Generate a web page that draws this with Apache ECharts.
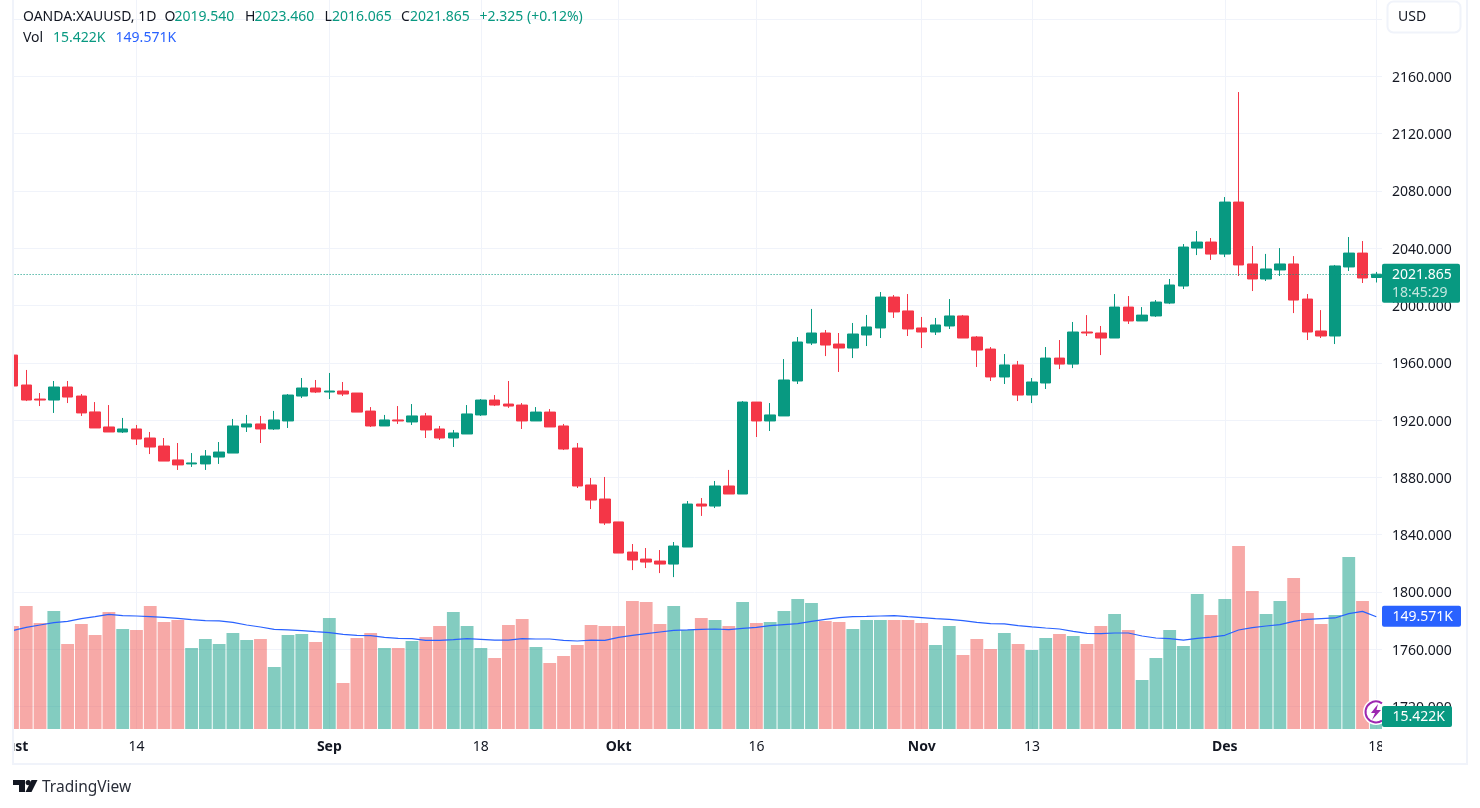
<!DOCTYPE html>
<html>
<head>
<meta charset="utf-8">
<style>html,body{margin:0;padding:0;background:#fff}#c{width:1480px;height:808px}</style>
<script src="https://cdn.jsdelivr.net/npm/echarts@6/dist/echarts.min.js"></script>
</head>
<body>
<div id="c"></div>
<script>
// Trading days, 1 Aug 2023 .. 18 Dec 2023
var dates = ['08-01','08-02','08-03','08-04','08-07','08-08','08-09','08-10','08-11','08-14','08-15','08-16','08-17','08-18','08-21','08-22','08-23','08-24','08-25','08-28','08-29','08-30','08-31','09-01','09-04','09-05','09-06','09-07','09-08','09-11','09-12','09-13','09-14','09-15','09-18','09-19','09-20','09-21','09-22','09-25','09-26','09-27','09-28','09-29','10-02','10-03','10-04','10-05','10-06','10-09','10-10','10-11','10-12','10-13','10-16','10-17','10-18','10-19','10-20','10-23','10-24','10-25','10-26','10-27','10-30','10-31','11-01','11-02','11-03','11-06','11-07','11-08','11-09','11-10','11-13','11-14','11-15','11-16','11-17','11-20','11-21','11-22','11-23','11-24','11-27','11-28','11-29','11-30','12-01','12-04','12-05','12-06','12-07','12-08','12-11','12-12','12-13','12-14','12-15','12-18'];
var opens = [1965.4,1944.5,1934.7,1934.0,1943.1,1936.8,1925.7,1915.2,1911.7,1913.8,1907.5,1901.9,1892.2,1889.4,1889.4,1894.2,1897.0,1915.2,1917.3,1913.8,1919.4,1936.8,1942.4,1939.6,1940.3,1938.9,1926.3,1915.9,1920.1,1918.7,1922.9,1913.8,1907.5,1910.3,1923.6,1934.0,1931.2,1930.5,1919.4,1925.6,1915.9,1900.5,1874.7,1864.9,1848.9,1827.9,1823.0,1821.6,1819.5,1831.4,1861.4,1860.0,1874.0,1868.4,1932.6,1919.4,1922.9,1947.3,1973.8,1980.8,1973.1,1970.3,1979.4,1984.3,2005.9,1996.2,1984.3,1981.5,1985.7,1992.7,1978.0,1969.6,1950.1,1958.5,1937.5,1945.9,1963.3,1959.1,1981.5,1980.8,1977.3,1998.9,1989.2,1992.7,2001.7,2013.6,2040.1,2044.3,2035.9,2072.2,2029.0,2018.5,2024.8,2029.0,2004.5,1982.2,1978.7,2026.9,2036.6,2019.54];
var closes = [1943.8,1934.0,1934.0,1943.1,1936.1,1925.0,1914.5,1911.7,1913.8,1906.8,1901.2,1891.4,1888.7,1890.1,1894.9,1897.7,1915.9,1917.3,1913.8,1920.1,1937.5,1942.4,1939.6,1940.3,1938.2,1925.6,1915.9,1920.1,1919.4,1922.9,1913.1,1907.5,1911.0,1924.3,1934.0,1930.5,1929.8,1919.4,1925.6,1915.2,1899.8,1874.0,1864.2,1848.2,1827.2,1822.3,1820.9,1819.5,1832.1,1861.4,1860.0,1874.0,1868.4,1932.6,1919.4,1923.6,1948.0,1974.5,1980.8,1972.4,1970.3,1980.1,1985.0,2005.9,1995.5,1983.6,1981.5,1986.4,1992.7,1977.3,1968.9,1950.1,1958.5,1937.5,1946.6,1963.3,1959.1,1981.5,1980.8,1977.3,1998.9,1989.2,1993.3,2002.4,2014.3,2040.8,2044.3,2035.9,2072.2,2028.3,2018.5,2025.5,2029.0,2003.8,1981.5,1978.7,2027.6,2036.6,2019.2,2021.865];
var lows = [1943.8,1933.3,1929.8,1925.0,1931.9,1922.9,1914.5,1911.7,1911.0,1902.6,1896.3,1891.4,1885.2,1887.3,1885.2,1889.4,1897.0,1911.7,1904.0,1913.1,1914.5,1935.4,1938.9,1934.7,1936.8,1925.6,1915.2,1915.9,1917.3,1916.6,1907.5,1906.1,1901.2,1910.3,1922.9,1929.8,1928.5,1913.8,1919.4,1915.2,1899.1,1872.6,1857.9,1846.8,1827.2,1815.3,1816.7,1813.2,1810.4,1831.4,1853.1,1858.6,1868.4,1868.4,1908.2,1912.4,1922.9,1945.2,1972.4,1964.7,1953.6,1963.3,1971.7,1977.3,1991.3,1978.7,1970.3,1979.4,1983.6,1977.3,1957.1,1947.3,1945.2,1933.3,1931.9,1941.7,1955.6,1956.3,1978.7,1965.4,1977.3,1987.1,1989.2,1992.0,2001.0,2011.5,2035.2,2031.8,2033.8,2020.6,2010.1,2017.1,2020.6,1994.7,1975.9,1977.3,1973.1,2024.1,2015.7,2016.065];
var highs = [1965.4,1955.0,1938.9,1947.3,1947.3,1938.2,1932.6,1930.5,1921.5,1916.6,1911.7,1907.5,1904.0,1897.0,1899.1,1904.7,1920.8,1923.6,1922.9,1926.4,1938.2,1949.4,1948.0,1952.9,1946.6,1938.9,1929.1,1923.6,1929.8,1931.2,1925.0,1915.9,1913.1,1930.5,1934.7,1937.5,1947.3,1931.9,1929.1,1927.7,1917.3,1904.0,1879.6,1880.3,1848.9,1833.5,1830.7,1829.3,1834.9,1863.5,1865.6,1877.5,1885.2,1933.3,1932.6,1931.9,1962.6,1978.0,1997.6,1982.9,1980.8,1987.8,1993.4,2009.4,2007.3,2008.0,1992.0,1991.3,2004.5,1993.4,1978.7,1971.0,1966.1,1961.3,1949.4,1971.0,1975.9,1988.5,1993.3,1985.7,2008.0,2006.6,1998.9,2003.8,2018.5,2042.9,2052.0,2047.1,2075.7,2149.0,2041.5,2036.0,2040.1,2034.5,2008.0,1996.8,2028.3,2047.8,2045.0,2023.46];
var volumes = [137.2,163.8,141.2,157.2,113.2,139.9,125.2,155.8,133.2,131.9,163.8,142.5,145.2,107.9,119.9,113.2,127.9,118.5,119.9,82.6,125.2,126.5,115.9,147.9,61.3,121.2,127.9,107.9,107.9,117.2,122.5,137.2,155.8,137.2,107.9,94.6,138.5,146.5,109.2,87.9,97.2,111.9,138.5,137.2,137.2,170.5,169.2,139.9,163.8,131.9,147.9,145.2,137.2,169.2,141.2,142.5,157.2,173.2,167.8,143.9,142.5,133.2,145.2,145.2,145.2,145.2,141.2,111.9,137.2,98.6,119.9,106.6,127.9,113.2,105.2,121.2,126.5,123.9,113.2,137.2,153.2,131.9,65.3,94.6,131.9,110.6,179.8,151.8,173.2,243.8,183.8,153.2,170.5,201.1,154.5,139.9,151.8,229.1,170.5,15.422];
var volumeMA = [131.0,135.4,138.5,141.6,143.4,147.0,149.6,152.7,151.0,150.5,149.6,148.7,147.4,145.6,144.3,143.9,142.0,138.5,135.9,132.8,131.9,131.0,129.6,128.3,126.0,124.8,124.3,122.1,120.8,120.3,118.1,118.1,119.0,120.3,119.4,118.5,118.5,120.3,119.9,119.9,118.1,117.2,118.5,118.1,122.1,124.8,127.0,129.2,131.4,131.9,132.8,133.2,132.3,134.1,135.4,137.6,139.0,140.3,143.4,146.1,148.3,149.6,150.0,150.5,151.0,149.6,148.3,147.0,146.1,144.3,142.0,140.3,139.9,137.6,135.9,134.5,133.2,130.1,127.4,127.0,127.9,127.9,123.9,121.2,120.3,118.5,120.8,122.5,124.8,131.9,135.0,137.2,139.0,143.4,146.1,147.0,147.9,153.6,156.7,149.571];

var xTickDates  = ['08-01','08-14','09-01','09-18','10-02','10-16','11-01','11-13','12-01','12-18'];
var xTickLabels = ['Agust','14','Sep','18','Okt','16','Nov','13','Des','18'];
var xTickMajor  = ['Sep','Okt','Nov','Des'];
var priceTickLabels = [1720,1760,1800,1840,1880,1920,1960,2000,2040,2080,2120,2160];

var lastPrice = 2021.865, lastVolume = 15.422, lastVolumeMA = 149.571, countdown = '18:45:29', currency = 'USD';
var headerSymbol = 'OANDA:XAUUSD, 1D';
var headerOHLC = [['O','2019.540'],['H','2023.460'],['L','2016.065'],['C','2021.865']];
var headerChange = '+2.325 (+0.12%)';

var UP = '#089981', DOWN = '#f43647', GRID = '#f0f3fa', TXT = '#131722', BLUE = '#2962ff';
var FONT = '"Noto Sans", sans-serif';
var ohlc = opens.map(function (o, i) { return [o, closes[i], lows[i], highs[i]]; });

var chart = echarts.init(document.getElementById('c'), null, { renderer: 'canvas' });
chart.setOption({
  animation: false,
  backgroundColor: '#fff',
  textStyle: { fontFamily: FONT },
  grid: [
    { left: 5.6, right: 96.8, top: -38.3, bottom: 44.1, outerBoundsMode: 'none' },
    { left: 5.6, right: 96.8, top: 0, bottom: 79, outerBoundsMode: 'none' }
  ],
  xAxis: [
    { type: 'category', gridIndex: 0, data: dates, show: false },
    { type: 'category', gridIndex: 1, data: dates,
      axisLine: { show: false }, axisTick: { show: false }, splitLine: { show: false },
      axisLabel: {
        margin: 11, fontSize: 14, color: TXT, fontFamily: FONT,
        interval: function (i, v) { return xTickDates.indexOf(v) >= 0; },
        formatter: function (v) {
          var s = xTickLabels[xTickDates.indexOf(v)];
          if (s === 'Agust') return '{a|' + s + '}';
          return xTickMajor.indexOf(s) >= 0 ? '{b|' + s + '}' : s;
        },
        rich: {
          b: { fontWeight: 'bold', fontSize: 14, color: TXT, fontFamily: FONT },
          a: { fontWeight: 'bold', fontSize: 14, color: TXT, fontFamily: FONT, padding: [0, 9, 0, 0] }
        }
      } }
  ],
  yAxis: [
    { type: 'value', gridIndex: 0, position: 'right', min: 1680, max: 2240, interval: 40,
      axisLine: { show: false }, axisTick: { show: false },
      splitLine: { lineStyle: { color: GRID, width: 1 } },
      axisLabel: { margin: 8.8, fontSize: 14, color: TXT, fontFamily: FONT,
        formatter: function (v) { return priceTickLabels.indexOf(v) >= 0 ? '{v|' + v.toFixed(3) + '}' : ''; },
        rich: { v: { fontSize: 14, color: TXT, fontFamily: FONT, padding: [3, 0, 0, 0] } } } },
    { type: 'value', gridIndex: 1, min: 0, max: 971, show: false }
  ],
  series: [
    { type: 'line', xAxisIndex: 1, yAxisIndex: 1, data: [], z: 0, silent: true,
      markLine: { z: 1, silent: true, symbol: 'none', animation: false, label: { show: false },
        lineStyle: { color: GRID, width: 1, type: 'solid' },
        data: xTickDates.map(function (d) { return { xAxis: d }; }) } },
    { type: 'bar', xAxisIndex: 1, yAxisIndex: 1, data: volumes, barWidth: 12.8, z: 2, silent: true,
      itemStyle: { color: function (p) {
        return closes[p.dataIndex] >= opens[p.dataIndex] ? 'rgba(8,153,129,0.5)' : 'rgba(239,83,80,0.5)'; } } },
    { type: 'line', xAxisIndex: 1, yAxisIndex: 1, data: volumeMA, z: 3, silent: true, symbol: 'none', smooth: false,
      lineStyle: { color: BLUE, width: 1.2 } },
    { type: 'candlestick', xAxisIndex: 0, yAxisIndex: 0, data: ohlc, barWidth: 11, z: 4, silent: true,
      itemStyle: { color: UP, color0: DOWN, borderColor: UP, borderColor0: DOWN, borderWidth: 1 },
      markLine: { silent: true, symbol: 'none', animation: false, label: { show: false },
        lineStyle: { color: UP, width: 1, type: [1, 2] },
        data: [{ yAxis: lastPrice }] } }
  ]
});

function tag(y0, y1, x1, color) {
  return { type: 'rect', z: 60, shape: { x: 1382, y: y0, width: x1 - 1382, height: y1 - y0, r: 2 }, style: { fill: color } };
}
function text(x, y, s, color, size, weight) {
  return { type: 'text', z: 70, x: x, y: y,
    style: { text: s, fill: color, font: (weight || 'normal') + ' ' + (size || 14) + 'px ' + FONT, textVerticalAlign: 'middle', textAlign: 'left' } };
}
var yPrice = chart.convertToPixel({ yAxisIndex: 0 }, lastPrice);
var yMA = chart.convertToPixel({ yAxisIndex: 1 }, lastVolumeMA);
var xOHLC = [[164.6, 174.5], [245, 254.5], [324.5, 332], [401, 410]];
var g = [
  // plot-edge masks and pane border
  { type: 'rect', z: 50, shape: { x: 0, y: 0, width: 12, height: 808 }, style: { fill: '#fff' } },
  { type: 'rect', z: 50, shape: { x: 1382, y: 0, width: 2, height: 729 }, style: { fill: '#fff' } },
  { type: 'rect', z: 50, shape: { x: 1382, y: 730, width: 84, height: 33 }, style: { fill: '#fff' } },
  { type: 'rect', z: 51, shape: { x: 12, y: 0, width: 2, height: 765 }, style: { fill: GRID } },
  { type: 'rect', z: 51, shape: { x: 1466, y: 0, width: 2, height: 765 }, style: { fill: GRID } },
  { type: 'rect', z: 51, shape: { x: 12, y: 763, width: 1456, height: 2 }, style: { fill: GRID } },
  // currency button
  { type: 'rect', z: 60, shape: { x: 1387.5, y: 1.5, width: 73, height: 31, r: 6 }, style: { fill: '#fff', stroke: GRID, lineWidth: 2 } },
  text(1398, 17.5, currency, TXT, 14),
  // header
  text(23, 17, headerSymbol, TXT, 14),
  text(23, 38, 'Vol', TXT, 14),
  text(53, 38, lastVolume.toFixed(3) + 'K', UP, 14),
  text(115.6, 38, lastVolumeMA.toFixed(3) + 'K', BLUE, 14),
  text(479.5, 17, headerChange, UP, 14),
  // event badge
  { type: 'circle', z: 52, shape: { cx: 1376, cy: 712, r: 13 }, style: { fill: '#fff' } },
  { type: 'arc', z: 53, shape: { cx: 1376, cy: 712, r: 10.5, startAngle: 0.96, endAngle: 5.32, clockwise: true }, style: { fill: null, stroke: '#9c27b0', lineWidth: 2 } },
  { type: 'polygon', z: 53, shape: { points: [[1378, 704], [1371, 713], [1375, 713], [1372, 720], [1381, 710], [1376.5, 710]] }, style: { fill: '#9c27b0' } },
  // last price / volume tags
  tag(yPrice - 10.5, yPrice + 28.5, 1460, UP),
  text(1392, yPrice + 1, lastPrice.toFixed(3), '#fff', 14),
  text(1392, yPrice + 19, countdown, '#c4e6df', 14),
  tag(yMA - 11, yMA + 10, 1461, BLUE),
  text(1392.5, yMA + 0.5, lastVolumeMA.toFixed(3) + 'K', '#fff', 14),
  tag(706, 727, 1452, UP),
  text(1392.5, 717.5, lastVolume.toFixed(3) + 'K', '#fff', 14),
  // footer logo + wordmark
  { type: 'polygon', z: 60, shape: { points: [[13, 780], [25, 780], [25, 792], [19, 792], [19, 785], [13, 785]] }, style: { fill: TXT } },
  { type: 'circle', z: 60, shape: { cx: 28.2, cy: 782.6, r: 2.6 }, style: { fill: TXT } },
  { type: 'polygon', z: 60, shape: { points: [[31.5, 780], [37.5, 780], [31.5, 792], [25.5, 792]] }, style: { fill: TXT } },
  text(42, 788, 'TradingView', '#2a2e39', 15.5)
];
headerOHLC.forEach(function (p, i) {
  g.push(text(xOHLC[i][0], 17, p[0], TXT, 14));
  g.push(text(xOHLC[i][1], 17, p[1], UP, 14));
});
chart.setOption({ graphic: { elements: g } });
</script>
</body>
</html>
